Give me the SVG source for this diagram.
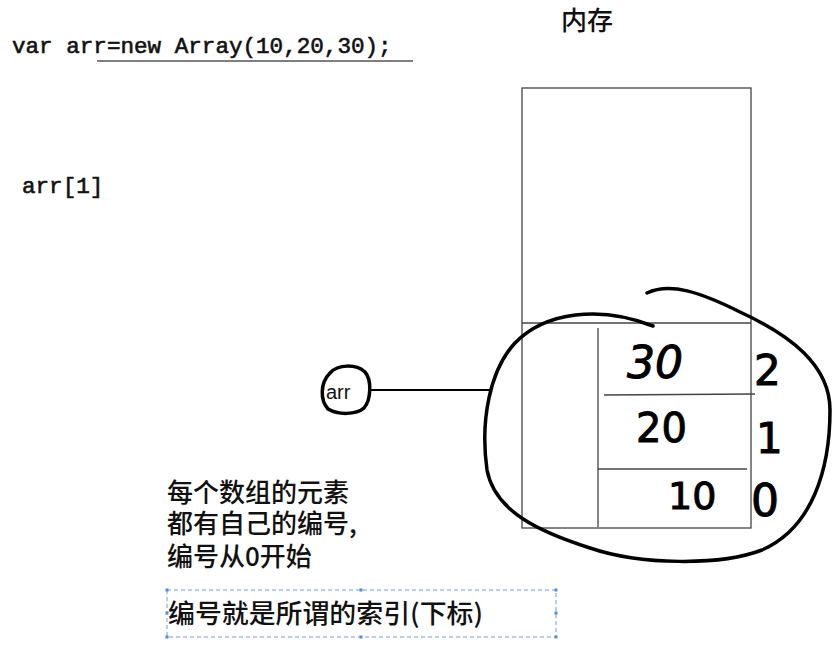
<svg xmlns="http://www.w3.org/2000/svg" width="834" height="648" viewBox="0 0 834 648">
<style>
.code{font-family:"Liberation Mono","DejaVu Sans Mono",monospace;font-size:22.6px;fill:#111;stroke:#111;stroke-width:0.6}
.cjk{font-family:"Noto Sans CJK SC","Noto Sans",sans-serif;font-size:26px;fill:#111;font-weight:500}
.box{fill:none;stroke:#444;stroke-width:1.3}
.hand{font-family:"DejaVu Sans",sans-serif;fill:#000;stroke:#000;stroke-width:1}
.ink{fill:none;stroke:#000;stroke-width:3.5;stroke-linecap:round;stroke-linejoin:round}
.sel{fill:none;stroke:#6a9fd8;stroke-width:1;stroke-dasharray:4 3}
.hdl{fill:#4f8fd6}
</style>
<rect width="834" height="648" fill="#fff"/>
<g id="code">
<text class="code" x="12" y="53">var arr=new Array(10,20,30);</text>
<line x1="97" y1="61" x2="413" y2="61" stroke="#555" stroke-width="1.5"/>
</g>
<g id="title">
<text class="cjk" x="561" y="30" font-size="25">内存</text>
</g>
<g id="access">
<text class="code" x="22" y="193">arr[1]</text>
</g>
<g id="memory">
<rect class="box" x="522" y="88" width="229" height="440"/>
<line class="box" x1="522" y1="323" x2="751" y2="323"/>
<line class="box" x1="598" y1="328" x2="598" y2="527"/>
<line class="box" x1="604" y1="395" x2="755" y2="394"/>
<line class="box" x1="598" y1="469" x2="747" y2="469"/>
</g>
<g id="values">
<text class="hand" x="627" y="378" font-size="44" font-style="italic">30</text>
<text class="hand" x="636" y="442" font-size="40">20</text>
<text class="hand" x="668" y="509" font-size="38">10</text>
</g>
<g id="indices">
<text class="hand" x="754" y="385" font-size="42">2</text>
<text class="hand" x="756" y="453" font-size="42">1</text>
<text class="hand" x="751" y="516" font-size="44">0</text>
</g>
<g id="loop">
<path class="ink" d="M647,293 C670,282 700,292 740,312 C790,335 830,365 830,410 C830,470 812,528 762,550 C720,566 640,565 590,548 C540,532 495,512 487,470 C480,420 490,370 515,343 C545,312 600,305 653,326"/>
</g>
<g id="arr">
<path class="ink" d="M330,373 C338,364 356,364 365,372 C372,380 371,400 364,408 C356,415 338,415 328,409 C320,400 320,383 330,373 Z" stroke-width="3.5"/>
<text x="326" y="399" font-family="Liberation Sans,Arial,sans-serif" font-size="20" fill="#111">arr</text>
</g>
<g id="connectors">
<line x1="370" y1="390" x2="490" y2="390" stroke="#000" stroke-width="2"/>
</g>
<g id="note">
<text class="cjk" x="167" y="502"><tspan x="167" y="502">每个数组的元素</tspan><tspan x="167" y="533">都有自己的编号,</tspan><tspan x="167" y="566">编号从0开始</tspan></text>
</g>
<g id="index-note">
<rect class="sel" x="167" y="590" width="389" height="47"/>
<rect class="hdl" x="165.5" y="588.5" width="3" height="3"/>
<rect class="hdl" x="359.5" y="588.5" width="3" height="3"/>
<rect class="hdl" x="554.5" y="588.5" width="3" height="3"/>
<rect class="hdl" x="165.5" y="611.5" width="3" height="3"/>
<rect class="hdl" x="554.5" y="611.5" width="3" height="3"/>
<rect class="hdl" x="165.5" y="635.5" width="3" height="3"/>
<rect class="hdl" x="359.5" y="635.5" width="3" height="3"/>
<rect class="hdl" x="554.5" y="635.5" width="3" height="3"/>
<text class="cjk" x="168" y="623" font-size="27" textLength="315" lengthAdjust="spacingAndGlyphs">编号就是所谓的索引(下标)</text>
</g>
</svg>
